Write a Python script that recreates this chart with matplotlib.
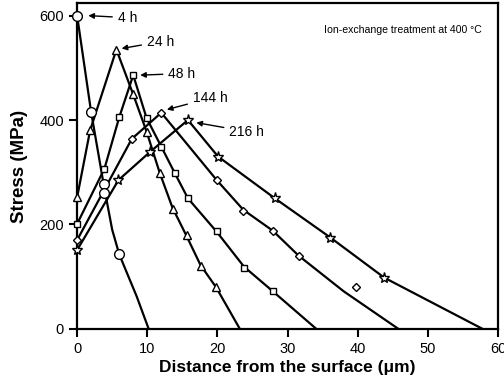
import matplotlib
matplotlib.use('Agg')
import matplotlib.pyplot as plt

plt.rcParams['font.family'] = ['Liberation Sans', 'DejaVu Sans']

# marker points (distance um, stress MPa)
x_4h = [0, 2.0, 3.8, 3.9, 6.0]
y_4h = [600, 415, 278, 261, 143]
x_24h = [0, 1.85, 5.6, 8.0, 9.9, 11.8, 13.6, 15.6, 17.6, 19.8]
y_24h = [252, 380, 535, 449, 378, 298, 230, 180, 120, 81]
x_48h = [0, 3.9, 6.0, 8.0, 9.9, 12.0, 13.9, 15.8, 19.9, 23.8, 27.9]
y_48h = [201, 307, 405, 486, 404, 349, 299, 250, 188, 117, 73]
x_144h = [0, 7.8, 12.0, 19.9, 23.7, 27.9, 31.6, 39.8]
y_144h = [170, 364, 414, 285, 226, 188, 140, 81]
x_216h = [0, 5.9, 10.4, 15.8, 20.1, 28.2, 36.1, 43.8]
y_216h = [151, 285, 339, 400, 330, 250, 175, 98]

# fitted curves (knots)
cx_4h = [0, 2.0, 3.9, 5.0, 6.0, 7.2, 8.5, 10.2]
cy_4h = [600, 415, 268, 190, 143, 104, 62, 0]
cx_24h = [0, 1.85, 5.6, 8.0, 9.9, 11.8, 13.6, 15.6, 17.6, 19.8, 23.2]
cy_24h = [252, 380, 535, 449, 378, 298, 232, 178, 122, 80, 0]
cx_48h = [0, 3.9, 6.0, 8.0, 9.9, 12.0, 13.9, 15.8, 19.9, 23.8, 27.9, 34.1]
cy_48h = [201, 307, 405, 486, 404, 349, 299, 250, 186, 119, 72, 0]
cx_144h = [0, 7.8, 12.0, 19.9, 23.7, 27.9, 31.6, 38.0, 45.8]
cy_144h = [170, 364, 414, 285, 228, 188, 140, 72, 0]
cx_216h = [0, 5.9, 10.4, 15.8, 20.1, 28.2, 36.1, 43.8, 57.8]
cy_216h = [151, 285, 339, 400, 330, 250, 175, 98, 0]

labels = ['4 h', '24 h', '48 h', '144 h', '216 h']
label_tip = [(1.6, 600), (6.35, 537), (9.0, 486), (12.8, 420), (17.0, 395)]
label_pos = [(5.8, 596), (9.95, 550), (13.0, 489), (16.5, 442), (21.7, 378)]

fig = plt.figure(figsize=(5.04, 3.86), dpi=100)
ax = fig.add_axes([0.153, 0.148, 0.835, 0.844])

series = [
    (x_4h, y_4h, cx_4h, cy_4h, 'o', 7.0),
    (x_24h, y_24h, cx_24h, cy_24h, '^', 5.5),
    (x_48h, y_48h, cx_48h, cy_48h, 's', 4.5),
    (x_144h, y_144h, cx_144h, cy_144h, 'D', 4.3),
    (x_216h, y_216h, cx_216h, cy_216h, '*', 8.0),
]
for mx, my, cx, cy, mk, ms in series:
    ax.plot(cx, cy, color='black', lw=1.6, zorder=2)
    ax.plot(mx, my, linestyle='none', marker=mk, markersize=ms,
            markerfacecolor='white', markeredgecolor='black', mew=1.0, zorder=3,
            clip_on=False)

for lab, tip, pos in zip(labels, label_tip, label_pos):
    ax.annotate(lab, xy=tip, xytext=pos, ha='left', va='center', fontsize=10,
                arrowprops=dict(arrowstyle='-|>', color='black', lw=1.0,
                                mutation_scale=8, shrinkA=2, shrinkB=0))

ax.text(57.75, 572, 'Ion-exchange treatment at 400 \u00b0C', ha='right', va='center',
        fontsize=7.6)

ax.set_xlim(0, 60)
ax.set_ylim(0, 624)
ax.set_xticks([0, 10, 20, 30, 40, 50, 60])
ax.set_yticks([0, 200, 400, 600])
ax.tick_params(direction='out', length=6, width=1.5, labelsize=10.5,
               top=False, right=False)
for s in ax.spines.values():
    s.set_linewidth(1.6)

ax.set_xlabel('Distance from the surface (\u03bcm)', fontsize=12.5, fontweight='bold',
              labelpad=3)
ax.set_ylabel('Stress (MPa)', fontsize=13.5, fontweight='bold', labelpad=8)

fig.savefig('out.png', dpi=100)
